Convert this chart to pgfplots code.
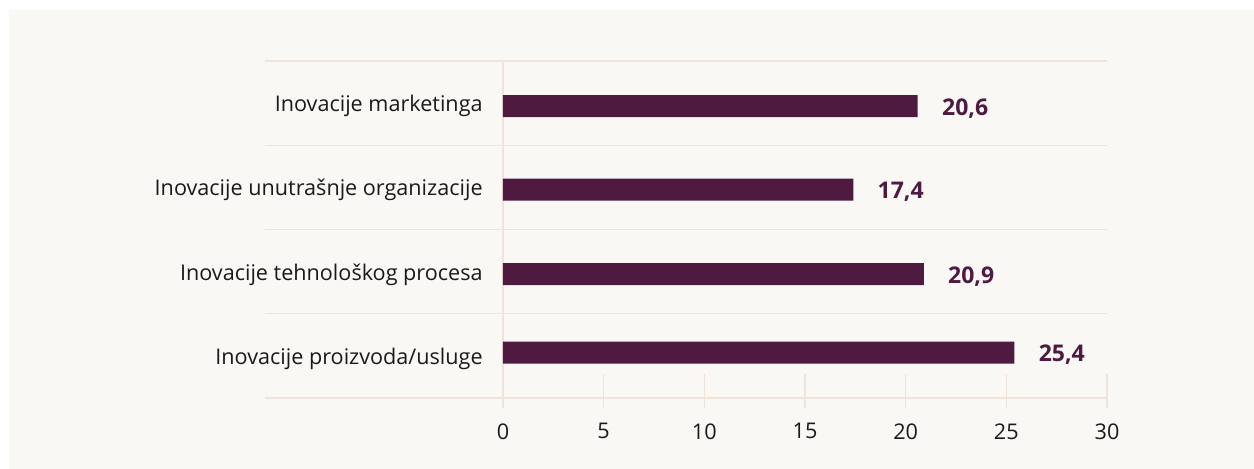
\documentclass[border=0pt]{standalone}
\usepackage{pgfplots}
\pgfplotsset{compat=1.18}
\usepackage{fontspec}
\setmainfont{Open Sans}
\definecolor{bg}{HTML}{F9F8F5}
\definecolor{plum}{HTML}{4E1A40}
\definecolor{gridc}{HTML}{F0E3D9}
\definecolor{txt}{HTML}{1A1A1A}
\newcommand{\lblfont}{\fontsize{10.8}{13}\selectfont}
\newcommand{\valfont}{\fontsize{11.5}{14}\selectfont\bfseries}
\begin{document}
\begin{tikzpicture}[x=1pt,y=1pt]
% pozadina
\fill[white] (0,0) rectangle (627,234.5);
\fill[bg] (4.5,0) rectangle (627,229.5);
\begin{axis}[
    at={(251.5pt,35.5pt)}, anchor=south west,
    scale only axis,
    width=302pt, height=168.5pt,
    xmin=0, xmax=30,
    ymin=0.5, ymax=4.5,
    clip=false,
    axis line style={draw=none},
    xtick={0,5,...,30},
    ytick={1,2,3,4},
    yticklabels={Inovacije proizvoda/usluge, Inovacije tehnološkog procesa, Inovacije unutrašnje organizacije, Inovacije marketinga},
    major tick length=0pt,
    tick style={draw=none},
    /pgf/number format/assume math mode=true,
    tick label style={font=\lblfont, text=txt, inner sep=0pt},
    xticklabel style={anchor=north, yshift=-12.5pt},
    yticklabel style={anchor=base east, xshift=-10pt, yshift=-4.3pt},
    xbar, bar width=11pt, bar shift=0pt,
    point meta=explicit symbolic,
    nodes near coords,
    nodes near coords style={anchor=west, inner sep=0pt, xshift=12pt, yshift=-1pt,
        font=\valfont, text=plum},
]
% linije kategorija
\draw[gridc, line width=0.7pt] ([xshift=-119pt]axis cs:0,4.5) -- (axis cs:30,4.5);
\draw[gridc, line width=0.7pt] ([xshift=-119pt]axis cs:0,3.5) -- (axis cs:30,3.5);
\draw[gridc, line width=0.7pt] ([xshift=-119pt]axis cs:0,2.5) -- (axis cs:30,2.5);
\draw[gridc, line width=0.7pt] ([xshift=-119pt]axis cs:0,1.5) -- (axis cs:30,1.5);
\draw[gridc, line width=0.7pt] ([xshift=-119pt]axis cs:0,0.5) -- (axis cs:30,0.5);
% nulta linija i oznake
\draw[gridc, line width=0.7pt] (axis cs:0,4.5) -- ([yshift=-5pt]axis cs:0,0.5);
\draw[gridc, line width=0.7pt] ([yshift=12pt]axis cs:5,0.5) -- ([yshift=-5pt]axis cs:5,0.5);
\draw[gridc, line width=0.7pt] ([yshift=12pt]axis cs:10,0.5) -- ([yshift=-5pt]axis cs:10,0.5);
\draw[gridc, line width=0.7pt] ([yshift=12pt]axis cs:15,0.5) -- ([yshift=-5pt]axis cs:15,0.5);
\draw[gridc, line width=0.7pt] ([yshift=12pt]axis cs:20,0.5) -- ([yshift=-5pt]axis cs:20,0.5);
\draw[gridc, line width=0.7pt] ([yshift=12pt]axis cs:25,0.5) -- ([yshift=-5pt]axis cs:25,0.5);
\draw[gridc, line width=0.7pt] ([yshift=12pt]axis cs:30,0.5) -- ([yshift=-5pt]axis cs:30,0.5);
% stupci
\addplot[fill=plum, draw=none] coordinates {
    (25.4,1.038) [25,4]
    (20.9,1.970) [20,9]
    (17.4,2.973) [17,4]
    (20.6,3.964) [20,6]
};
\end{axis}
\end{tikzpicture}
\end{document}
